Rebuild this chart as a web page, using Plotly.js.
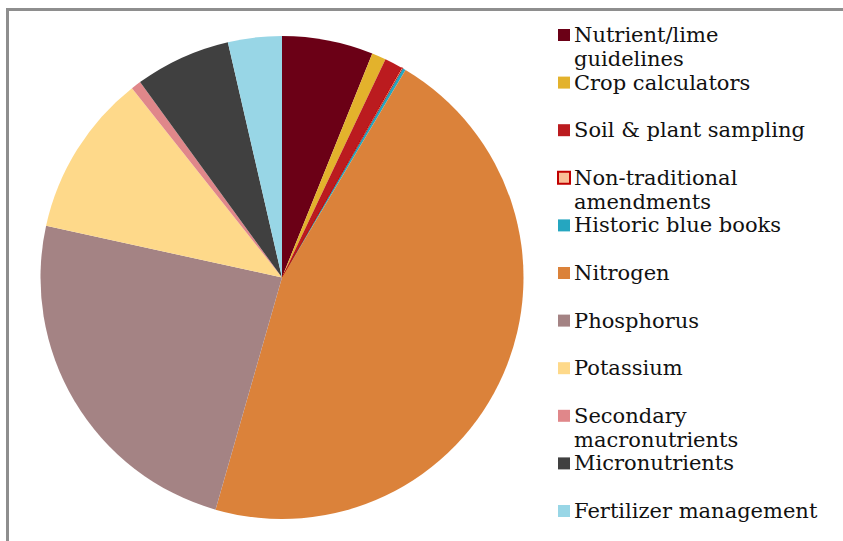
<!DOCTYPE html>
<html>
<head>
<meta charset="utf-8">
<script src="https://cdn.plot.ly/plotly-3.0.1.min.js"></script>
<style>
html,body{margin:0;padding:0;background:#fff;}
#chart{width:843px;height:541px;}
</style>
</head>
<body>
<div id="chart"></div>
<script>
// Data (percent share of each topic)
var labels = [
  "Nutrient/lime guidelines",
  "Crop calculators",
  "Soil & plant sampling",
  "Non-traditional amendments",
  "Historic blue books",
  "Nitrogen",
  "Phosphorus",
  "Potassium",
  "Secondary macronutrients",
  "Micronutrients",
  "Fertilizer management"
];
var values = [6.1, 0.95, 1.2, 0.1, 0.2, 45.9, 24.0, 10.9, 0.67, 6.4, 3.6];
var legendLine1 = [
  "Nutrient/lime", "Crop calculators", "Soil & plant sampling", "Non-traditional",
  "Historic blue books", "Nitrogen", "Phosphorus", "Potassium", "Secondary",
  "Micronutrients", "Fertilizer management"
];
var legendLine2 = ["guidelines", "", "", "amendments", "", "", "", "", "macronutrients", "", ""];
var colors = ["#6B0016", "#E3B22C", "#BB1B1F", "#F9BE97", "#25A6C0", "#DB823A",
              "#A48384", "#FED98A", "#E0878A", "#404040", "#98D6E6"];
var lineColors = ["#6B0016", "#E3B22C", "#BB1B1F", "#C00000", "#25A6C0", "#DB823A",
                  "#A48384", "#FED98A", "#E0878A", "#404040", "#98D6E6"];
var lineWidths = [0, 0, 0, 1, 0, 0, 0, 0, 0, 0, 0];

var W = 843, H = 541;
function px(x){ return x / W; }
function py(y){ return (H - y) / H; }

var cx = 282, cy = 277.5, r = 241.5;

var trace = {
  type: "pie",
  labels: labels,
  values: values,
  sort: false,
  direction: "clockwise",
  rotation: 0,
  textinfo: "none",
  hoverinfo: "label+percent",
  marker: { colors: colors, line: { color: lineColors, width: lineWidths } },
  domain: { x: [px(cx - r), px(cx + r)], y: [py(cy + r), py(cy - r)] },
  showlegend: false
};

var shapes = [
  { type: "line", xref: "paper", yref: "paper", x0: px(6), x1: px(843), y0: py(9.5), y1: py(9.5),
    line: { color: "#8E8E8E", width: 3 } },
  { type: "line", xref: "paper", yref: "paper", x0: px(7.5), x1: px(7.5), y0: py(8), y1: py(541),
    line: { color: "#8E8E8E", width: 3 } }
];
var annotations = [];
var top0 = 35, step = 47.6, lineGap = 24.5;
var fnt = { family: "DejaVu Serif", size: 21, color: "#111111" };
for (var i = 0; i < labels.length; i++) {
  var c = top0 + i * step;
  var isNT = (i === 3);
  shapes.push({
    type: "rect", xref: "paper", yref: "paper",
    x0: px(558), x1: px(570), y0: py(c + 6), y1: py(c - 6),
    fillcolor: colors[i],
    line: { color: isNT ? "#C00000" : colors[i], width: isNT ? 2 : 0 }
  });
  annotations.push({
    xref: "paper", yref: "paper",
    x: px(572), y: py(c),
    xanchor: "left", yanchor: "middle", align: "left",
    showarrow: false, text: legendLine1[i], font: fnt
  });
  if (legendLine2[i]) {
    annotations.push({
      xref: "paper", yref: "paper",
      x: px(572), y: py(c + lineGap),
      xanchor: "left", yanchor: "middle", align: "left",
      showarrow: false, text: legendLine2[i], font: fnt
    });
  }
}

var layout = {
  width: W, height: H,
  margin: { l: 0, r: 0, t: 0, b: 0 },
  paper_bgcolor: "#ffffff",
  showlegend: false,
  shapes: shapes,
  annotations: annotations
};

Plotly.newPlot("chart", [trace], layout, { displayModeBar: false, staticPlot: true });
</script>
</body>
</html>
